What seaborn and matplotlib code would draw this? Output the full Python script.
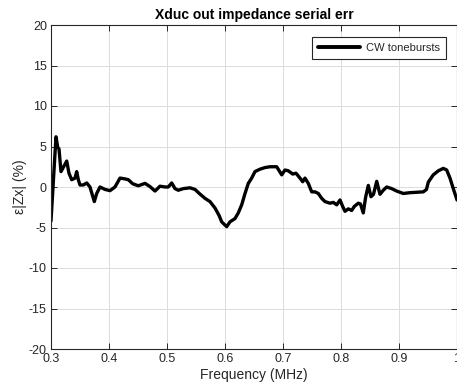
import numpy as np
import pandas as pd
import matplotlib
matplotlib.use("Agg")
import matplotlib.pyplot as plt
import seaborn as sns

# Frequency sweep (MHz) and serial impedance error (%)
freq_mhz = [
    0.300, 0.3086, 0.3116, 0.3138, 0.3172, 0.3271, 0.3310, 0.3357, 0.3414, 0.3443,
    0.3471, 0.3500, 0.3557, 0.3616, 0.3672, 0.3747, 0.3788, 0.3845, 0.3931, 0.4017,
    0.4103, 0.4190, 0.4276, 0.4333, 0.4409, 0.4505, 0.4621, 0.4707, 0.4793, 0.4879,
    0.4966, 0.5022, 0.5081, 0.5138, 0.5195, 0.5281, 0.5397, 0.5483, 0.5557, 0.5655,
    0.5741, 0.5828, 0.5897, 0.5943, 0.6000, 0.6029, 0.6086, 0.6172, 0.6229, 0.6288,
    0.6345, 0.6402, 0.6460, 0.6517, 0.6603, 0.6690, 0.6776, 0.6891, 0.6978, 0.7034,
    0.7091, 0.7167, 0.7224, 0.7293, 0.7340, 0.7379, 0.7436, 0.7495, 0.7552, 0.7609,
    0.7667, 0.7724, 0.7810, 0.7867, 0.7926, 0.7983, 0.8029, 0.8069, 0.8126, 0.8184,
    0.8229, 0.8298, 0.8336, 0.8384, 0.8426, 0.8471, 0.8517, 0.8560, 0.8616, 0.8672,
    0.8729, 0.8788, 0.8874, 0.8960, 0.9074, 0.9190, 0.9305, 0.9419, 0.9474, 0.9505,
    0.9591, 0.9678, 0.9764, 0.9822, 0.9879, 0.9936, 1.000,
]
err_pct = [
    -4.2, 6.2, 4.9, 4.7, 1.9, 3.2, 1.7, 0.9, 1.1, 1.9,
    0.9, 0.25, 0.25, 0.5, 0.0, -1.8, -0.8, 0.0, -0.3, -0.45,
    0.0, 1.1, 1.0, 0.9, 0.4, 0.15, 0.45, 0.05, -0.5, 0.1,
    0.0, 0.0, 0.5, -0.2, -0.4, -0.2, -0.1, -0.3, -0.8, -1.4,
    -1.8, -2.6, -3.5, -4.3, -4.7, -4.9, -4.3, -3.9, -3.2, -2.2,
    -0.8, 0.45, 1.1, 1.9, 2.2, 2.4, 2.5, 2.5, 1.5, 2.1,
    2.0, 1.6, 1.7, 1.1, 0.65, 1.1, 0.45, -0.6, -0.6, -0.8,
    -1.4, -1.8, -2.0, -1.9, -2.2, -1.6, -2.4, -3.0, -2.7, -2.9,
    -2.4, -2.0, -2.1, -3.2, -1.2, 0.2, -1.2, -0.9, 0.7, -0.9,
    -0.4, 0.0, -0.2, -0.5, -0.8, -0.7, -0.65, -0.6, -0.3, 0.6,
    1.5, 2.0, 2.3, 2.1, 1.1, -0.2, -1.6,
]
series_name = "CW tonebursts"

x_ticks = [0.3, 0.4, 0.5, 0.6, 0.7, 0.8, 0.9, 1.0]
x_tick_labels = ["0.3", "0.4", "0.5", "0.6", "0.7", "0.8", "0.9", "1"]
y_ticks = [-20, -15, -10, -5, 0, 5, 10, 15, 20]

df = pd.DataFrame({"freq": freq_mhz, "err": err_pct, "series": series_name})

sns.set_style("ticks")
plt.rcParams["font.family"] = ["Liberation Sans", "DejaVu Sans"]
plt.rcParams["axes.unicode_minus"] = False

fig = plt.figure(figsize=(4.57, 3.89), dpi=100)
ax = fig.add_axes([51 / 457, 1 - 349 / 389, 1 - 51 / 457, (349 - 25) / 389])

sns.lineplot(data=df, x="freq", y="err", hue="series", palette=["black"],
             linewidth=2.4, ax=ax, sort=False, legend=True)

ax.set_xlim(0.3, 1.0)
ax.set_ylim(-20, 20)
ax.set_xticks(x_ticks)
ax.set_xticklabels(x_tick_labels)
ax.set_yticks(y_ticks)
ax.grid(True, color="#dcdcdc", linewidth=0.7)
ax.set_axisbelow(True)
for side in ["top", "right", "left", "bottom"]:
    ax.spines[side].set_visible(True)
    ax.spines[side].set_color("#262626")
    ax.spines[side].set_linewidth(0.8)
ax.tick_params(direction="in", length=4, width=0.7, top=True, right=True,
               labelsize=9, colors="#262626", pad=3)

ax.set_xlabel("Frequency (MHz)", fontsize=10, color="#262626", labelpad=2)
ax.set_ylabel("ε|Zx| (%)", fontsize=10, color="#262626", labelpad=1)
ax.set_title("Xduc out impedance serial err", fontsize=10, fontweight="bold",
             color="black", pad=4)

leg = ax.legend(loc="upper right", fontsize=8, frameon=True, fancybox=False,
                edgecolor="#262626", framealpha=1, handlelength=3.8,
                handletextpad=0.5, borderpad=0.55, borderaxespad=0,
                bbox_to_anchor=(0.973, 0.963))
leg.get_frame().set_linewidth(0.8)
for line in leg.get_lines():
    line.set_linewidth(2.8)

fig.savefig("out.png", dpi=100)
